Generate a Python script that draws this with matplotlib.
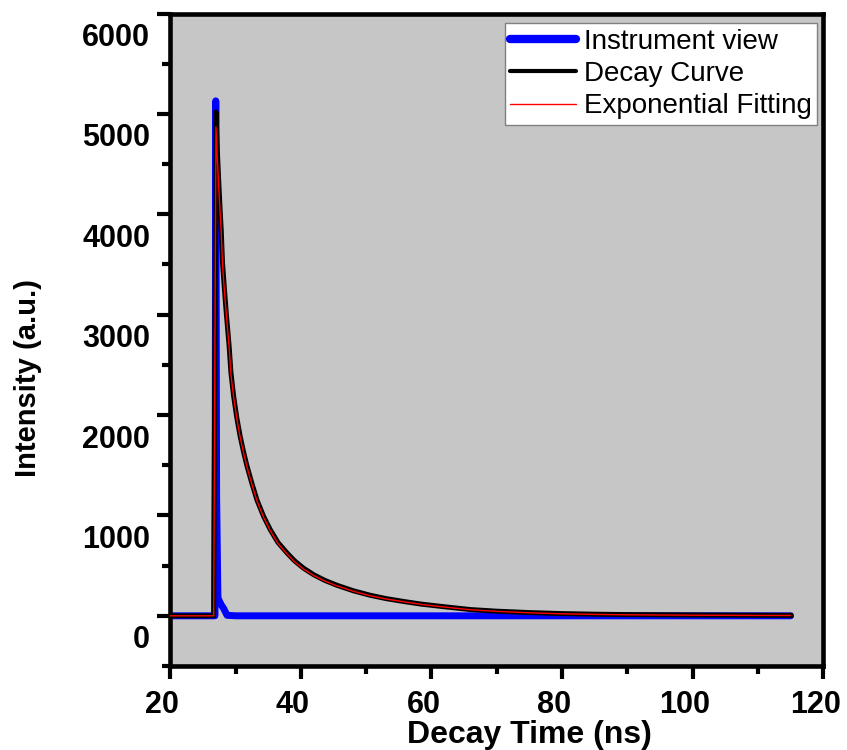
import matplotlib
matplotlib.use("Agg")
import matplotlib.pyplot as plt
from matplotlib.ticker import MultipleLocator
from matplotlib.transforms import ScaledTranslation

# Instrument response (blue)
irf_t = [20, 26.85, 26.97, 27.1, 27.3, 27.5, 27.8, 28.2, 28.7, 30, 60, 90, 115]
irf_i = [0, 0, 5130, 1200, 180, 150, 110, 70, 5, 0, 0, 0, 0]

decay_t = [20, 26.65, 27.0, 27.2, 27.4, 27.6, 27.8, 28.0, 28.3, 28.6, 29.0, 29.3,
           29.7, 30.2, 30.7, 31.2, 31.7, 32.5, 33.3, 34.3, 35.3, 36.5, 37.9,
           39.0, 40.4, 42.0, 43.7, 45.5, 48.0, 50.6, 53.0, 55.7, 58.5, 62.0,
           66.0, 70.0, 75.0, 80.0, 85.0, 90.0, 100.0, 115.0]
decay_i = [0, 0, 5020, 4650, 4360, 4090, 3850, 3520, 3250, 3000, 2700, 2420,
           2190, 1970, 1790, 1640, 1505, 1320, 1150, 990, 860, 730, 625,
           550, 475, 408, 352, 305, 250, 205, 172, 143, 116, 90,
           62, 46, 32, 22, 16, 12, 8, 4]
fit_i = [0, 0, 4870, 4560, 4300, 4060, 3830, 3500, 3230, 2990, 2690, 2400,
         2180, 1960, 1780, 1630, 1495, 1310, 1140, 980, 850, 720, 615,
         540, 466, 400, 345, 299, 245, 200, 168, 140, 113, 87,
         60, 44, 30, 20, 14, 10, 6, 3]

plt.rcParams["font.family"] = ["Liberation Sans", "DejaVu Sans"]

fig = plt.figure(figsize=(8.47, 7.5), dpi=100)
ax = fig.add_axes([0.201, 0.112, 0.771, 0.870])
ax.set_facecolor("#c6c6c6")

ax.plot(irf_t, irf_i, color="#0000ff", lw=5, solid_capstyle="round",
        label="Instrument view", zorder=2)
ax.plot(decay_t, decay_i, color="black", lw=3.6, label="Decay Curve", zorder=3)
ax.plot(decay_t, fit_i, color="#ff0000", lw=1.0, label="Exponential Fitting", zorder=4)

ax.set_xlim(20, 120)
ax.set_ylim(-500, 6000)
ax.xaxis.set_major_locator(MultipleLocator(20))
ax.xaxis.set_minor_locator(MultipleLocator(10))
ax.yaxis.set_major_locator(MultipleLocator(1000))
ax.yaxis.set_minor_locator(MultipleLocator(500))

for sp in ax.spines.values():
    sp.set_linewidth(3.3)
ax.tick_params(which="major", direction="out", length=9.5, width=3,
               labelsize=22)
ax.tick_params(which="minor", direction="out", length=5.8, width=3)
ax.tick_params(axis="x", which="major", pad=8)
ax.tick_params(axis="y", which="major", pad=5)
ax.tick_params(top=False, right=False)
for lab in ax.get_xticklabels() + ax.get_yticklabels():
    lab.set_fontweight("bold")
# tick labels are nudged off their ticks in the original
for lab in ax.get_yticklabels():
    lab.set_transform(lab.get_transform() + ScaledTranslation(0, -0.21, fig.dpi_scale_trans))
for lab in ax.get_xticklabels():
    lab.set_transform(lab.get_transform() + ScaledTranslation(-0.08, 0, fig.dpi_scale_trans))

ax.set_xlabel("Decay Time (ns)", fontsize=23, fontweight="bold")
ax.set_ylabel("Intensity (a.u.)", fontsize=21, fontweight="bold")
ax.xaxis.set_label_coords(0.55, -0.083)
ax.yaxis.set_label_coords(-0.196, 0.441)

leg = ax.legend(loc="upper right", bbox_to_anchor=(0.991, 0.9854),
                borderaxespad=0, fontsize=20, frameon=True, fancybox=False,
                edgecolor="#808080", framealpha=1, handlelength=2.35,
                handletextpad=0.3, labelspacing=0.23, borderpad=0.2)
leg.get_frame().set_linewidth(1.0)
for h, w in zip(leg.get_lines(), [6, 3, 1]):
    h.set_linewidth(w)
    h.set_solid_capstyle("round")

fig.savefig("out.png", dpi=100)
